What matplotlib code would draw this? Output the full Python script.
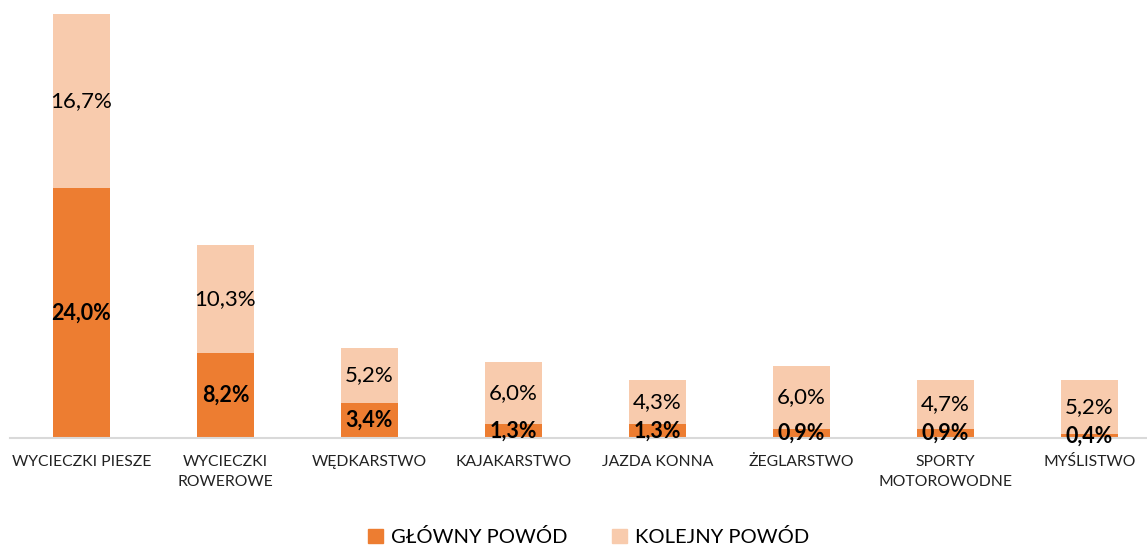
import numpy as np
import matplotlib.pyplot as plt
from matplotlib.patches import Patch

plt.rcParams['font.family'] = ['Lato', 'DejaVu Sans']

categories = ['WYCIECZKI PIESZE', 'WYCIECZKI\nROWEROWE', 'WĘDKARSTWO', 'KAJAKARSTWO',
              'JAZDA KONNA', 'ŻEGLARSTWO', 'SPORTY\nMOTOROWODNE', 'MYŚLISTWO']
glowny = [24.0, 8.2, 3.4, 1.3, 1.3, 0.9, 0.9, 0.4]
kolejny = [16.7, 10.3, 5.2, 6.0, 4.3, 6.0, 4.7, 5.2]

c_main = '#ED7D31'
c_next = '#F8CBAD'

fig = plt.figure(figsize=(11.47, 5.45), dpi=100)
ax = fig.add_axes([9.5 / 1147, 107 / 545, 1152 / 1147, 424 / 545])

x = np.arange(len(categories))
w = 0.4
ax.bar(x, glowny, w, color=c_main)
ax.bar(x, kolejny, w, bottom=glowny, color=c_next)


def fmt(v):
    return f'{v:.1f}%'.replace('.', ',')


for i in range(len(x)):
    ax.text(x[i], glowny[i] / 2, fmt(glowny[i]), ha='center', va='center',
            fontsize=15.5, fontweight='bold', color='black')
    ax.text(x[i], glowny[i] + kolejny[i] / 2, fmt(kolejny[i]), ha='center', va='center',
            fontsize=16, color='black')

ax.set_xlim(-0.5, 7.5)
ax.set_ylim(0, 40.7)
ax.set_yticks([])
ax.set_xticks(x)
ax.set_xticklabels(categories, fontsize=11.3, color='#222222', linespacing=1.55)
ax.tick_params(axis='x', length=0, pad=12)
for s in ['top', 'right', 'left']:
    ax.spines[s].set_visible(False)
ax.spines['bottom'].set_color('#D9D9D9')
ax.spines['bottom'].set_linewidth(1.5)

handles = [Patch(color=c_main, label='GŁÓWNY POWÓD'), Patch(color=c_next, label='KOLEJNY POWÓD')]
fig.legend(handles=handles, loc='center', bbox_to_anchor=(0.513, 1 - 537 / 545),
           ncol=2, frameon=False, fontsize=14.5, handlelength=0.75, handleheight=0.75,
           handletextpad=0.4, columnspacing=2.2)

fig.savefig('out.png', dpi=100)
